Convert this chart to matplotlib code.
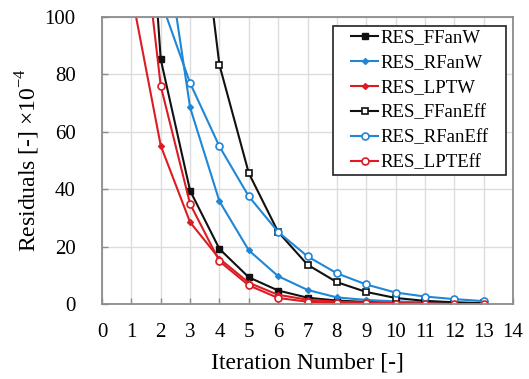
import matplotlib
matplotlib.use("Agg")
import matplotlib.pyplot as plt
from matplotlib.patches import Rectangle

plt.rcParams["font.family"] = ["Liberation Serif", "DejaVu Serif"]
plt.rcParams["mathtext.fontset"] = "custom"
plt.rcParams["mathtext.rm"] = "Liberation Serif"

# iteration numbers and residuals (x1e-4)
iters = list(range(1, 14))
res_ffan_w = [235, 85.3, 39.5, 19.2, 9.3, 4.7, 2.2, 1.2, 0.7, 0.4, 0.3, 0.2, 0.1]
res_rfan_w = [300, 137, 68.5, 35.8, 18.7, 9.7, 4.9, 2.3, 1.4, 0.9, 0.6, 0.4, 0.2]
res_lpt_w = [108.6, 55.2, 28.5, 15.8, 7.4, 3.2, 1.5, 0.8, 0.5, 0.3, 0.2, 0.1, 0.1]
res_ffan_eff = [600, 350, 167, 83.3, 45.6, 25.1, 13.7, 7.6, 4.2, 2.1, 1.1, 0.6, 0.3]
res_rfan_eff = [200, 105.8, 77.0, 54.9, 37.5, 25.1, 16.6, 10.7, 6.8, 4.0, 2.6, 1.7, 1.0]
res_lpt_eff = [165, 76.0, 34.9, 14.9, 6.5, 2.1, 0.8, 0.4, 0.2, 0.1, 0.1, 0.0, 0.0]

BLACK = "#111111"
BLUE = "#1f87d6"
RED = "#dc1c22"

SERIES = [
    ("RES_FFanW", res_ffan_w, dict(color=BLACK, marker="s", ms=4, mfc=BLACK, mec=BLACK)),
    ("RES_RFanW", res_rfan_w, dict(color=BLUE, marker="D", ms=3, mfc=BLUE, mec=BLUE)),
    ("RES_LPTW", res_lpt_w, dict(color=RED, marker="D", ms=3, mfc=RED, mec=RED)),
    ("RES_FFanEff", res_ffan_eff, dict(color=BLACK, marker="s", ms=5, mfc="white", mec=BLACK, mew=1.2)),
    ("RES_RFanEff", res_rfan_eff, dict(color=BLUE, marker="o", ms=5, mfc="white", mec=BLUE, mew=1.2)),
    ("RES_LPTEff", res_lpt_eff, dict(color=RED, marker="o", ms=5, mfc="white", mec=RED, mew=1.2)),
]

fig = plt.figure(figsize=(5.29, 3.79), dpi=100)
ax = fig.add_axes([102 / 529, 1 - 304 / 379, 411 / 529, 287 / 379])

for label, vals, style in SERIES:
    ax.plot(iters, vals, label=label, lw=1.5, **style)

ax.set_xlim(0, 14)
ax.set_ylim(0, 100)
ax.set_xticks(range(0, 15))
ax.set_yticks(range(0, 101, 20))
ax.grid(True, color="#dcdcdc", lw=1.0)
ax.set_axisbelow(True)
for sp in ax.spines.values():
    sp.set_color("#8c8c8c")
    sp.set_linewidth(1.3)
ax.tick_params(axis="both", direction="in", length=4, width=1, color="#8c8c8c",
               labelsize=15)
ax.tick_params(axis="x", pad=14)
ax.tick_params(axis="y", pad=19)

ax.set_xlabel("Iteration Number [-]", fontsize=17, labelpad=7)
ax.set_ylabel(r"Residuals [-] $\times$10$^{-4}$", fontsize=17, labelpad=2)

# legend box is wider than its content in the original, so draw the frame separately
ax.add_patch(Rectangle((0.562, 0.449), 0.421, 0.520, transform=ax.transAxes,
                       facecolor="white", edgecolor="#222222", lw=1.2, zorder=5))
leg = ax.legend(loc="upper left", bbox_to_anchor=(0.606, 0.957), borderaxespad=0,
                borderpad=0, fontsize=13.5, handlelength=1.45, handletextpad=0.12,
                labelspacing=0.42, frameon=False)
leg.set_zorder(6)

fig.savefig("out.png", dpi=100)
